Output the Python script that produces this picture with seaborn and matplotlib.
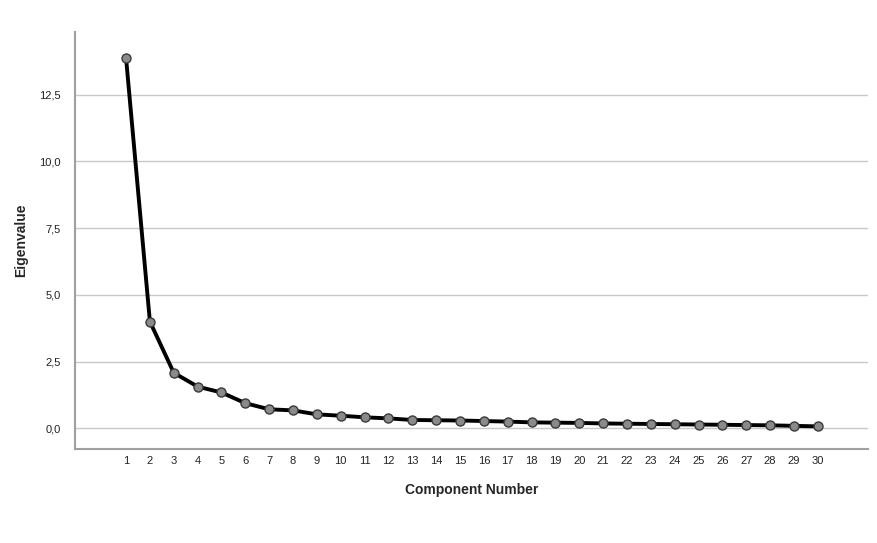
import matplotlib
matplotlib.use("Agg")
import matplotlib.pyplot as plt
import seaborn as sns
import pandas as pd
from matplotlib.ticker import FuncFormatter

components = list(range(1, 31))
eigenvalues = [13.88, 4.00, 2.08, 1.56, 1.34, 0.94, 0.71, 0.67, 0.52, 0.47,
               0.41, 0.37, 0.31, 0.30, 0.29, 0.27, 0.25, 0.22, 0.21, 0.20,
               0.18, 0.17, 0.16, 0.15, 0.14, 0.13, 0.12, 0.11, 0.09, 0.07]
y_ticks = [0.0, 2.5, 5.0, 7.5, 10.0, 12.5]

df = pd.DataFrame({"Component Number": components, "Eigenvalue": eigenvalues})

sns.set_style("white")
plt.rcParams['font.family'] = ['Liberation Sans', 'DejaVu Sans']

fig = plt.figure(figsize=(8.78, 5.43), dpi=100)
ax = fig.add_axes([0.0854, 0.173, 0.9032, 0.768])

sns.lineplot(data=df, x="Component Number", y="Eigenvalue", ax=ax,
             color="black", linewidth=2.8, marker="o", markersize=6.5,
             markerfacecolor="#8a8a8a", markeredgecolor="#3a3a3a",
             markeredgewidth=1.0, zorder=3)

ax.set_xlim(-1.14, 32.1)
ax.set_ylim(-0.78, 14.85)
ax.set_xticks(components)
ax.set_xticklabels([str(c) for c in components])
ax.set_yticks(y_ticks)
ax.yaxis.set_major_formatter(FuncFormatter(lambda v, p: f"{v:.1f}".replace(".", ",")))

ax.grid(axis="y", color="#c8c8c8", linewidth=1.0, zorder=0)
ax.grid(axis="x", visible=False)
for s in ["top", "right"]:
    ax.spines[s].set_visible(False)
for s in ["left", "bottom"]:
    ax.spines[s].set_color("#a0a0a0")
    ax.spines[s].set_linewidth(1.5)

ax.tick_params(axis="both", length=0, labelsize=8, colors="#222222")
ax.tick_params(axis="y", pad=10)
ax.tick_params(axis="x", pad=5)

ax.set_xlabel("Component Number", fontsize=10, fontweight="bold", labelpad=12)
ax.set_ylabel("Eigenvalue", fontsize=10, fontweight="bold", labelpad=8)

fig.savefig("out.png", dpi=100)
